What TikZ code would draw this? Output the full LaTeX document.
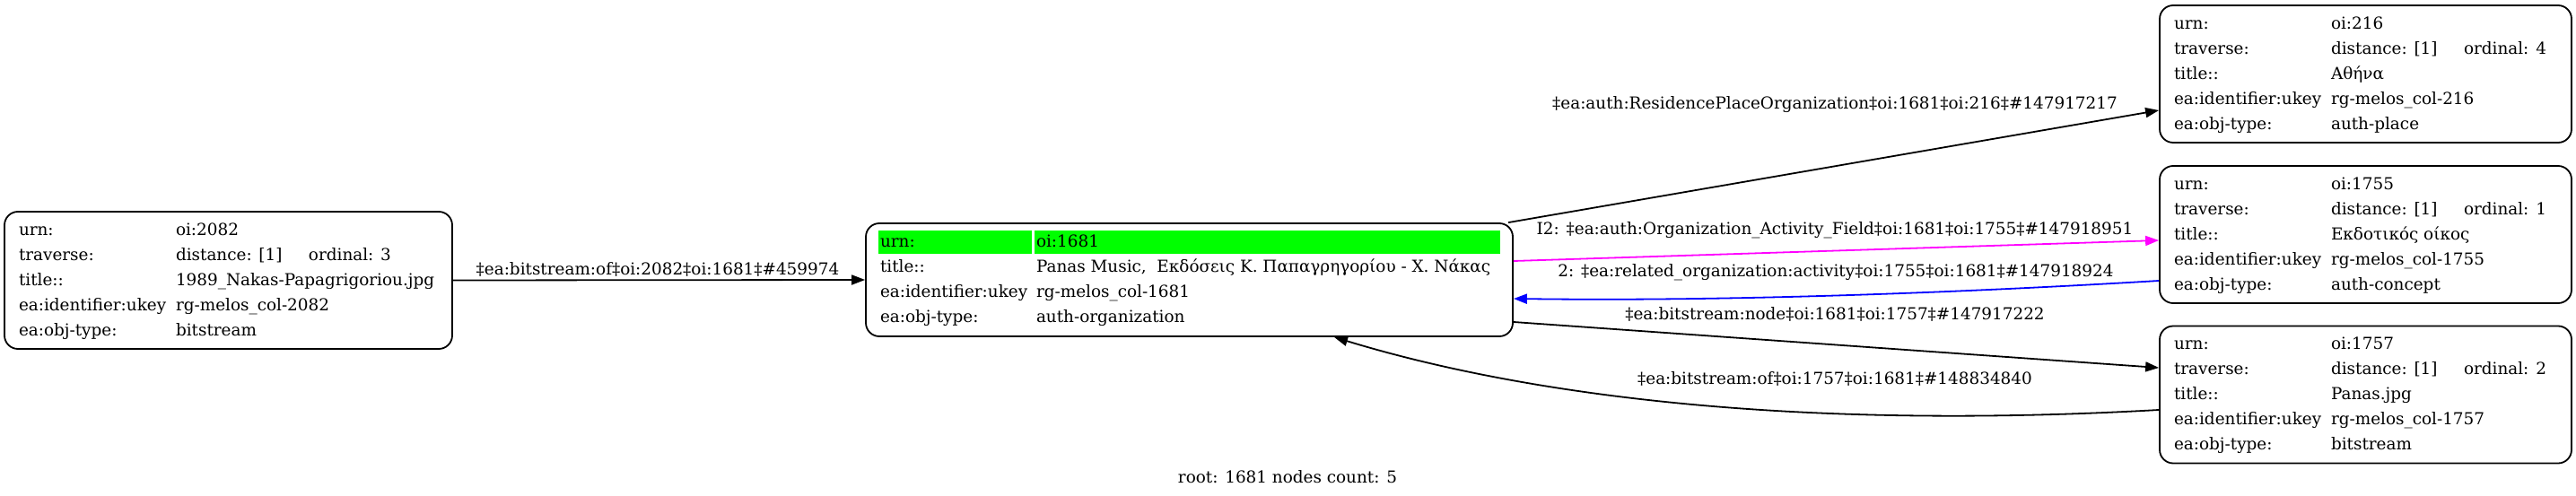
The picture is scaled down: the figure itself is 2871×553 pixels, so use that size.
\documentclass[tikz,border=0pt]{standalone}
\usepackage{fontspec}
\setmainfont{DejaVu Serif}
\usepackage{tikz}
\usetikzlibrary{arrows.meta,calc}

\definecolor{hlgreen}{RGB}{0,255,0}
\definecolor{relmagenta}{RGB}{255,0,255}
\definecolor{relblue}{RGB}{0,0,255}

\newcommand{\recfont}{\fontsize{18.4pt}{28pt}\selectfont}
\newcommand{\fld}[2]{\makebox[175pt][l]{#1}&#2\\}
\newcommand{\cfld}[2]{\makebox[174pt][l]{\hspace{2pt}#1}&\hspace{2pt}#2\\}
\newcommand{\trav}[1]{\makebox[148pt][l]{distance: [1]}ordinal: #1}
\newcommand{\hlcell}[2]{{\setlength{\fboxsep}{0pt}\colorbox{hlgreen}{\makebox[#1][l]{\rule[-7.4pt]{0pt}{26pt}\hspace{2pt}#2}}}}
\newcommand{\rectab}[2]{\makebox[#1][l]{\begin{tabular}{@{}l@{}l@{}}#2\end{tabular}}}

\begin{document}
\begin{tikzpicture}[x=1pt,y=-1pt,
  rec/.style={draw,line width=1.8pt,rounded corners=15pt,inner xsep=16pt,inner ysep=0pt,font=\recfont},
  link/.style={line width=1.8pt,-{Triangle[length=15pt,width=11pt]}},
  lbl/.style={font=\recfont,inner sep=0pt,text=black}]
  \useasboundingbox (0,0) rectangle (2871,553);
  % records
  \node[rec,minimum width=499pt,minimum height=153pt] (n2082) at (254.5,312.5)
    {\rectab{467pt}{\fld{urn:}{oi:2082}\fld{traverse:}{\trav{3}}\fld{title::}{1989\_Nakas-Papagrigoriou.jpg}\fld{ea:identifier:ukey}{rg-melos\_col-2082}\fld{ea:obj-type:}{bitstream}}};
  \node[rec,inner xsep=14pt,minimum width=721pt,minimum height=126pt] (n1681) at (1325.5,312)
    {\rectab{693pt}{\hlcell{171pt}{urn:}\hspace{3pt}&\hlcell{519pt}{oi:1681}\\
      \cfld{title::}{Panas Music,\ \ Εκδόσεις Κ. Παπαγρηγορίου - Χ. Νάκας}\cfld{ea:identifier:ukey}{rg-melos\_col-1681}\cfld{ea:obj-type:}{auth-organization}}};
  \node[rec,minimum width=459pt,minimum height=153pt] (n216) at (2636.5,82.5)
    {\rectab{427pt}{\fld{urn:}{oi:216}\fld{traverse:}{\trav{4}}\fld{title::}{Αθήνα}\fld{ea:identifier:ukey}{rg-melos\_col-216}\fld{ea:obj-type:}{auth-place}}};
  \node[rec,minimum width=459pt,minimum height=153pt] (n1755) at (2636.5,261.5)
    {\rectab{427pt}{\fld{urn:}{oi:1755}\fld{traverse:}{\trav{1}}\fld{title::}{Εκδοτικός οίκος}\fld{ea:identifier:ukey}{rg-melos\_col-1755}\fld{ea:obj-type:}{auth-concept}}};
  \node[rec,minimum width=459pt,minimum height=153pt] (n1757) at (2636.5,440)
    {\rectab{427pt}{\fld{urn:}{oi:1757}\fld{traverse:}{\trav{2}}\fld{title::}{Panas.jpg}\fld{ea:identifier:ukey}{rg-melos\_col-1757}\fld{ea:obj-type:}{bitstream}}};
  % relations
  \draw[link] (n2082.east) -- (n1681.west)
    node[lbl] at (733,300) {‡ea:bitstream:of‡oi:2082‡oi:1681‡\#459974};
  \draw[link] ($(n1681.north east)+(-6,0)$) -- ($(n216.west)+(0,40.5)$)
    node[lbl] at (2045,117) {‡ea:auth:ResidencePlaceOrganization‡oi:1681‡oi:216‡\#147917217};
  \draw[link,relmagenta] ($(n1681.east)+(0,-21)$) -- ($(n1755.west)+(0,6.5)$)
    node[lbl] at (2045,257) {I2: ‡ea:auth:Organization\_Activity\_Field‡oi:1681‡oi:1755‡\#147918951};
  \draw[link,relblue] ($(n1755.west)+(0,51.5)$) .. controls +(-250,15) and +(220,3) .. ($(n1681.east)+(0,21)$)
    node[lbl] at (2046,304) {2: ‡ea:related\_organization:activity‡oi:1755‡oi:1681‡\#147918924};
  \draw[link] ($(n1681.east)+(0,47)$) -- ($(n1757.west)+(0,-30)$)
    node[lbl] at (2045,350) {‡ea:bitstream:node‡oi:1681‡oi:1757‡\#147917222};
  \draw[link] ($(n1757.west)+(0,17)$) .. controls +(-407,23) and +(213,65) .. ($(n1681.south)+(161.5,0)$)
    node[lbl] at (2045,422) {‡ea:bitstream:of‡oi:1757‡oi:1681‡\#148834840};
  % footer
  \node[lbl] (caption) at (1435,532) {root: 1681 nodes count: 5};
\end{tikzpicture}
\end{document}
